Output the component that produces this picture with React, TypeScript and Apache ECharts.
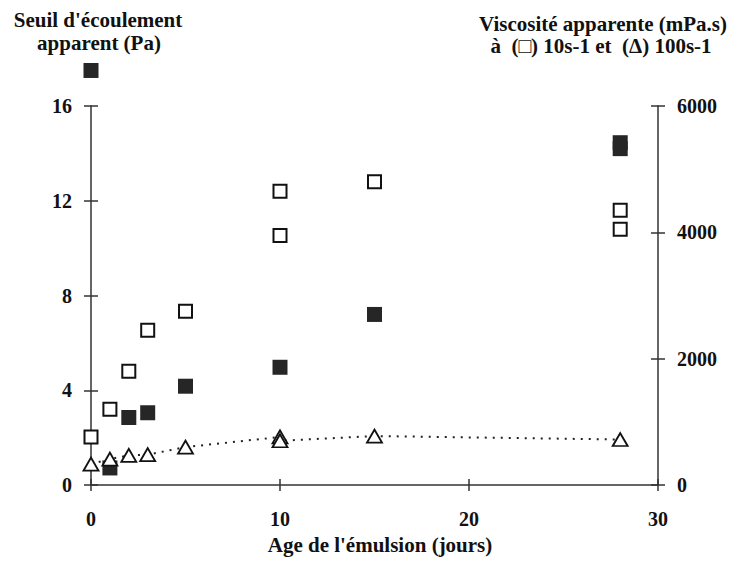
import React, { useEffect, useRef } from "react";
import * as echarts from "echarts";

// Seuil d'écoulement apparent (Pa) — filled squares, left axis
const yieldDays = [0, 1, 2, 3, 5, 10, 15, 28, 28];
const yieldStress = [17.5, 0.72, 2.85, 3.05, 4.17, 4.97, 7.2, 14.45, 14.2];

// Viscosité apparente à 10 s-1 (mPa.s) — open squares, right axis
const visc10Days = [0, 1, 2, 3, 5, 10, 10, 15, 28, 28];
const visc10 = [760, 1200, 1800, 2450, 2750, 4650, 3950, 4800, 4350, 4050];

// Viscosité apparente à 100 s-1 (mPa.s) — open triangles, right axis, dotted line
const visc100Days = [0, 1, 2, 3, 5, 10, 10, 15, 28];
const visc100 = [330, 410, 470, 480, 600, 760, 700, 775, 720];

const xTicks = [0, 10, 20, 30];
const leftTicks = [0, 4, 8, 12, 16];
const rightTicks = [0, 2000, 4000, 6000];

const FONT = "'Liberation Serif', 'Times New Roman', serif";
const INK = "#111";
const AXIS = "#333";

export default function App() {
  const ref = useRef<HTMLDivElement>(null);

  useEffect(() => {
    if (!ref.current) return;
    const chart = echarts.init(ref.current, undefined, { renderer: "svg" });

    const labelStyle = {
      fontFamily: FONT,
      fontWeight: "bold" as const,
      fontSize: 20,
      color: INK,
      formatter: (v: number) => String(v),
    };

    const baseAxisLine = { show: true, onZero: false, lineStyle: { color: AXIS, width: 1.5 } };
    const noAxisLine = { show: false, onZero: false };
    const tickStyle = { color: AXIS, width: 1.5 };

    const option: any = {
      animation: false,
      backgroundColor: "#ffffff",
      grid: { left: 91, right: 78, top: 106, bottom: 84, containLabel: false },
      xAxis: [
        {
          type: "value",
          min: xTicks[0],
          max: xTicks[xTicks.length - 1],
          interval: 10,
          position: "bottom",
          axisLine: baseAxisLine,
          axisTick: { show: true, inside: false, length: 6, lineStyle: tickStyle },
          axisLabel: { ...labelStyle, margin: 24 },
          splitLine: { show: false },
        },
        {
          type: "value",
          min: xTicks[0],
          max: xTicks[xTicks.length - 1],
          interval: 10,
          position: "bottom",
          axisLine: noAxisLine,
          axisTick: { show: true, inside: true, length: 6, lineStyle: tickStyle },
          axisLabel: { show: false },
          splitLine: { show: false },
        },
      ],
      yAxis: [
        {
          type: "value",
          position: "left",
          min: leftTicks[0],
          max: leftTicks[leftTicks.length - 1],
          interval: 4,
          axisLine: baseAxisLine,
          axisTick: { show: true, inside: false, length: 7, lineStyle: tickStyle },
          axisLabel: { ...labelStyle, margin: 19 },
          splitLine: { show: false },
        },
        {
          type: "value",
          position: "right",
          min: rightTicks[0],
          max: rightTicks[rightTicks.length - 1],
          interval: 2000,
          axisLine: baseAxisLine,
          axisTick: { show: true, inside: false, length: 7, lineStyle: tickStyle },
          axisLabel: { ...labelStyle, margin: 19 },
          splitLine: { show: false },
        },
        {
          type: "value",
          position: "left",
          min: leftTicks[0],
          max: leftTicks[leftTicks.length - 1],
          interval: 4,
          axisLine: noAxisLine,
          axisTick: { show: true, inside: true, length: 7, lineStyle: tickStyle },
          axisLabel: { show: false },
          splitLine: { show: false },
        },
        {
          type: "value",
          position: "right",
          min: rightTicks[0],
          max: rightTicks[rightTicks.length - 1],
          interval: 2000,
          axisLine: noAxisLine,
          axisTick: { show: true, inside: true, length: 7, lineStyle: tickStyle },
          axisLabel: { show: false },
          splitLine: { show: false },
        },
      ],
      series: [
        {
          name: "Seuil d'écoulement",
          type: "scatter",
          xAxisIndex: 0,
          yAxisIndex: 0,
          clip: false,
          symbol: "rect",
          symbolSize: [15, 15],
          itemStyle: { color: "#262626", opacity: 1 },
          data: yieldDays.map((d, i) => [d, yieldStress[i]]),
          z: 3,
        },
        {
          name: "Viscosité 10 s-1",
          type: "scatter",
          xAxisIndex: 0,
          yAxisIndex: 1,
          clip: false,
          symbol: "rect",
          symbolSize: [13, 13],
          itemStyle: { color: "#ffffff", borderColor: INK, borderWidth: 2, opacity: 1 },
          data: visc10Days.map((d, i) => [d, visc10[i]]),
          z: 4,
        },
        {
          name: "Viscosité 100 s-1",
          type: "line",
          xAxisIndex: 0,
          yAxisIndex: 1,
          clip: false,
          symbol: "triangle",
          symbolSize: [15, 13],
          showSymbol: true,
          showAllSymbol: true,
          itemStyle: { color: "#ffffff", borderColor: INK, borderWidth: 1.8, opacity: 1 },
          lineStyle: { color: "#222", width: 2, type: [2, 6] },
          data: visc100Days.map((d, i) => [d, visc100[i]]),
          z: 5,
        },
      ],
      graphic: [
        {
          type: "text",
          x: 98,
          y: 20,
          style: {
            text: "Seuil d'écoulement",
            font: `bold 21px ${FONT}`,
            fill: INK,
            textAlign: "center",
            textVerticalAlign: "middle",
          },
        },
        {
          type: "text",
          x: 99,
          y: 43,
          style: {
            text: "apparent (Pa)",
            font: `bold 21px ${FONT}`,
            fill: INK,
            textAlign: "center",
            textVerticalAlign: "middle",
          },
        },
        {
          type: "text",
          x: 603,
          y: 24,
          style: {
            text: "Viscosité apparente (mPa.s)",
            font: `bold 21px ${FONT}`,
            fill: INK,
            textAlign: "center",
            textVerticalAlign: "middle",
          },
        },
        {
          type: "text",
          x: 601,
          y: 46,
          style: {
            text: "à  (□) 10s-1 et  (Δ) 100s-1",
            font: `bold 21px ${FONT}`,
            fill: INK,
            textAlign: "center",
            textVerticalAlign: "middle",
          },
        },
        {
          type: "text",
          x: 380,
          y: 545,
          style: {
            text: "Age de l'émulsion (jours)",
            font: `bold 21px ${FONT}`,
            fill: INK,
            textAlign: "center",
            textVerticalAlign: "middle",
          },
        },
      ],
    };

    chart.setOption(option);
    return () => chart.dispose();
  }, []);

  return (
    <div
      ref={ref}
      style={{ position: "fixed", left: 0, top: 0, width: 736, height: 569, background: "#fff" }}
    />
  );
}
